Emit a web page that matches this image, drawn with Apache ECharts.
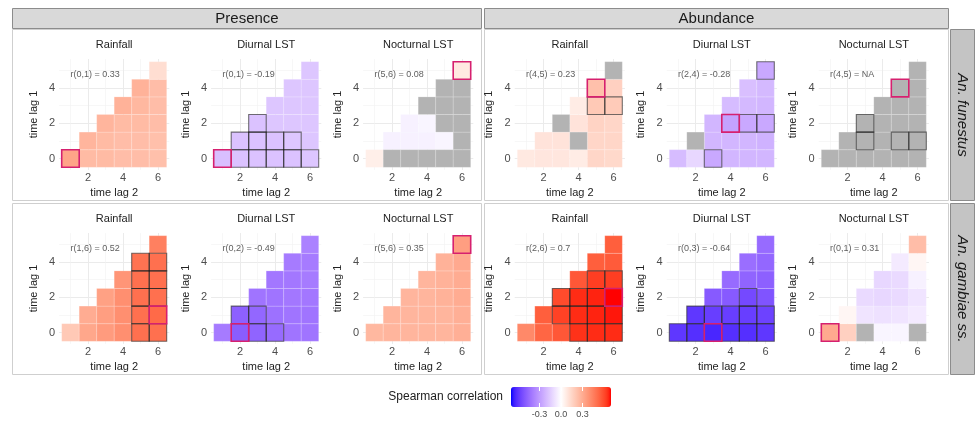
<!DOCTYPE html>
<html><head><meta charset="utf-8">
<script src="https://cdn.jsdelivr.net/npm/echarts@6/dist/echarts.min.js"></script>
<style>html,body{margin:0;padding:0;background:#fff}#c{width:977px;height:421px}</style>
</head><body><div id="c"></div><script>
// ---------- categories / ticks ----------
const responses = ['Presence', 'Abundance'];
const species = ['An. funestus', 'An. gambiae ss.'];
const variables = ['Rainfall', 'Diurnal LST', 'Nocturnal LST'];
const lag2Ticks = [2, 4, 6];
const lag1Ticks = [0, 2, 4];
const legendTicks = [-0.3, 0.0, 0.3];
const legendTitle = 'Spearman correlation';

// ---------- values: row index = time lag 1 (0..5); row k lists time lag 2 = k+1 .. 6 ----------
const presFunRain = [
  [0.33, 0.25, 0.25, 0.24, 0.24, 0.23],
  [0.27, 0.25, 0.24, 0.24, 0.23],
  [0.27, 0.25, 0.25, 0.24],
  [0.28, 0.26, 0.24],
  [0.28, 0.24],
  [0.12]
];
const presFunDiur = [
  [-0.19, -0.18, -0.18, -0.18, -0.18, -0.17],
  [-0.18, -0.18, -0.18, -0.17, -0.17],
  [-0.18, -0.17, -0.17, -0.17],
  [-0.17, -0.17, -0.17],
  [-0.17, -0.17],
  [-0.17]
];
const presFunNoct = [
  [0.06, null, null, null, null, null],
  [-0.04, -0.04, -0.04, -0.03, null],
  [-0.04, -0.03, null, null],
  [null, null, null],
  [null, null],
  [0.08]
];
const presGamRain = [
  [0.20, 0.32, 0.36, 0.40, 0.50, 0.50],
  [0.30, 0.35, 0.40, 0.50, 0.52],
  [0.34, 0.40, 0.50, 0.50],
  [0.38, 0.50, 0.50],
  [0.49, 0.50],
  [0.45]
];
const presGamDiur = [
  [-0.40, -0.49, -0.47, -0.45, -0.42, -0.42],
  [-0.48, -0.46, -0.43, -0.42, -0.42],
  [-0.42, -0.42, -0.41, -0.41],
  [-0.41, -0.41, -0.40],
  [-0.40, -0.40],
  [-0.38]
];
const presGamNoct = [
  [0.26, 0.27, 0.27, 0.27, 0.27, 0.29],
  [0.27, 0.27, 0.27, 0.27, 0.29],
  [0.27, 0.27, 0.28, 0.30],
  [0.27, 0.28, 0.30],
  [0.28, 0.31],
  [0.35]
];
const abunFunRain = [
  [0.08, 0.09, 0.09, 0.07, 0.15, 0.14],
  [0.10, 0.10, null, 0.15, 0.15],
  [null, 0.10, 0.16, 0.15],
  [0.07, 0.20, 0.19],
  [0.23, 0.17],
  [null]
];
const abunFunDiur = [
  [-0.20, -0.12, -0.26, -0.22, -0.22, -0.22],
  [null, -0.22, -0.22, -0.22, -0.23],
  [-0.22, -0.28, -0.26, -0.26],
  [-0.20, -0.21, -0.22],
  [-0.19, -0.21],
  [-0.26]
];
const abunFunNoct = [
  [null, null, null, null, null, null],
  [null, null, null, null, null],
  [null, null, null, null],
  [null, null, null],
  [null, null],
  [null]
];
const abunGamRain = [
  [0.42, 0.53, 0.57, 0.65, 0.66, 0.66],
  [0.55, 0.62, 0.66, 0.67, 0.68],
  [0.60, 0.66, 0.67, 0.70],
  [0.57, 0.63, 0.63],
  [0.55, 0.56],
  [0.55]
];
const abunGamDiur = [
  [-0.60, -0.62, -0.64, -0.62, -0.62, -0.60],
  [-0.60, -0.58, -0.58, -0.58, -0.57],
  [-0.50, -0.50, -0.55, -0.52],
  [-0.45, -0.47, -0.48],
  [-0.44, -0.46],
  [-0.45]
];
const abunGamNoct = [
  [0.31, 0.17, null, -0.03, -0.03, null],
  [0.03, -0.08, -0.09, -0.08, -0.06],
  [-0.11, -0.12, -0.11, -0.08],
  [-0.12, -0.11, -0.04],
  [-0.06, 0.03],
  [0.24]
];

// significant cells [time lag 2, time lag 1]
const presFunRainSig = [];
const presFunDiurSig = [[2,0],[3,0],[4,0],[5,0],[6,0],[2,1],[3,1],[4,1],[5,1],[3,2]];
const presFunNoctSig = [];
const presGamRainSig = [[5,0],[5,1],[5,2],[5,3],[5,4],[6,0],[6,2],[6,3],[6,4]];
const presGamDiurSig = [[3,0],[4,0],[2,1],[3,1]];
const presGamNoctSig = [];
const abunFunRainSig = [[5,3],[6,3]];
const abunFunDiurSig = [[3,0],[5,2],[6,2],[6,5]];
const abunFunNoctSig = [[3,1],[3,2],[5,1],[6,1]];
const abunGamRainSig = [[4,0],[5,0],[6,0],[3,1],[4,1],[5,1],[6,1],[3,2],[4,2],[5,2],[5,3],[6,3]];
const abunGamDiurSig = [[1,0],[2,0],[4,0],[5,0],[6,0],[2,1],[3,1],[4,1],[5,1],[6,1],[5,2]];
const abunGamNoctSig = [];

// best (highlighted) cell [time lag 2, time lag 1]
const presFunBest = [[1,0],[1,0],[6,5]];
const presGamBest = [[6,1],[2,0],[6,5]];
const abunFunBest = [[5,4],[4,2],[5,4]];
const abunGamBest = [[6,2],[3,0],[1,0]];

// ---------- assemble panels ----------
const panelValues = [
  [[presFunRain, presFunDiur, presFunNoct], [presGamRain, presGamDiur, presGamNoct]],
  [[abunFunRain, abunFunDiur, abunFunNoct], [abunGamRain, abunGamDiur, abunGamNoct]]
];
const panelSig = [
  [[presFunRainSig, presFunDiurSig, presFunNoctSig], [presGamRainSig, presGamDiurSig, presGamNoctSig]],
  [[abunFunRainSig, abunFunDiurSig, abunFunNoctSig], [abunGamRainSig, abunGamDiurSig, abunGamNoctSig]]
];
const panelBest = [[presFunBest, presGamBest], [abunFunBest, abunGamBest]];

// ---------- colour scale (Lab interpolation, like ggplot gradient2) ----------
const LIM = 0.7;
function s2l(c){c/=255;return c<=0.04045?c/12.92:Math.pow((c+0.055)/1.055,2.4);}
function l2s(c){c=Math.max(0,Math.min(1,c));return Math.round(255*(c<=0.0031308?12.92*c:1.055*Math.pow(c,1/2.4)-0.055));}
function toLab(rgb){
  const r=s2l(rgb[0]),g=s2l(rgb[1]),b=s2l(rgb[2]);
  const X=(0.4124*r+0.3576*g+0.1805*b)/0.95047, Y=0.2126*r+0.7152*g+0.0722*b, Z=(0.0193*r+0.1192*g+0.9505*b)/1.08883;
  const f=t=>t>0.008856?Math.cbrt(t):7.787*t+16/116;
  return [116*f(Y)-16,500*(f(X)-f(Y)),200*(f(Y)-f(Z))];
}
function fromLab(l){
  const fy=(l[0]+16)/116, fx=fy+l[1]/500, fz=fy-l[2]/200;
  const fi=t=>t*t*t>0.008856?t*t*t:(t-16/116)/7.787;
  const X=0.95047*fi(fx),Y=fi(fy),Z=1.08883*fi(fz);
  const r=3.2406*X-1.5372*Y-0.4986*Z,g=-0.9689*X+1.8758*Y+0.0415*Z,b=0.0557*X-0.2040*Y+1.0570*Z;
  return 'rgb('+l2s(r)+','+l2s(g)+','+l2s(b)+')';
}
const labW=toLab([255,255,255]), labR=toLab([255,0,0]), labB=toLab([0,0,255]);
const colorStops=[];
for(let i=0;i<=40;i++){
  const v=-1+2*i/40, t=Math.abs(v), end=v<0?labB:labR;
  colorStops.push(fromLab([0,1,2].map(k=>labW[k]+(end[k]-labW[k])*t)));
}

// ---------- layout ----------
const FONT='"Liberation Sans", Arial, sans-serif';
const CW=17.5, CH=17.6, EXP=0.15;
const X0=61.7, Y0=61.7, COLSTEP=152, HALFSTEP=455.6, ROWSTEP=174;
const NA_COLOR='#b3b3b3';
function minorOf(major, lo, hi){
  const st=major[1]-major[0];
  return [major[0]-st/2].concat(major.map(v=>v+st/2)).filter(v=>v>=lo&&v<=hi);
}
const xLo=0.5-EXP, xHi=6.5+EXP, yLo=-0.5-EXP, yHi=5.5+EXP;

const grids=[], xAxes=[], yAxes=[], series=[], graphics=[], fillIdx=[];

function rectOf(api,x,y){
  const p0=api.coord([x-0.5,y+0.5]), p1=api.coord([x+0.5,y-0.5]);
  return {x:p0[0],y:p0[1],width:p1[0]-p0[0],height:p1[1]-p0[1]};
}

let g=0;
for(let h=0;h<2;h++){
  for(let r=0;r<2;r++){
    for(let c=0;c<3;c++){
      const cl=X0+c*COLSTEP+h*HALFSTEP, ct=Y0+r*ROWSTEP;
      grids.push({left:cl-EXP*CW, top:ct-EXP*CH, width:(6+2*EXP)*CW, height:(6+2*EXP)*CH, containLabel:false});
      const xi=xAxes.length, yi=yAxes.length;
      xAxes.push({type:'value',gridIndex:g,min:xLo,max:xHi,
        axisLine:{show:false},axisTick:{show:false,customValues:lag2Ticks},
        axisLabel:{customValues:lag2Ticks,color:'#4d4d4d',fontSize:11,margin:3,fontFamily:FONT},
        splitLine:{show:true,lineStyle:{color:'#ebebeb',width:1}},
        name:'time lag 2',nameLocation:'middle',nameGap:18,nameTextStyle:{color:'#222',fontSize:11,fontFamily:FONT}});
      xAxes.push({type:'value',gridIndex:g,min:xLo,max:xHi,
        axisLine:{show:false},axisTick:{show:false,customValues:minorOf(lag2Ticks,xLo,xHi)},
        axisLabel:{show:false},splitLine:{show:true,lineStyle:{color:'#f2f2f2',width:0.6}}});
      yAxes.push({type:'value',gridIndex:g,min:yLo,max:yHi,
        axisLine:{show:false},axisTick:{show:false,customValues:lag1Ticks},
        axisLabel:{customValues:lag1Ticks,color:'#4d4d4d',fontSize:11,margin:4,fontFamily:FONT},
        splitLine:{show:true,lineStyle:{color:'#ebebeb',width:1}},
        name:'time lag 1',nameLocation:'middle',nameGap:20,nameTextStyle:{color:'#222',fontSize:11,fontFamily:FONT}});
      yAxes.push({type:'value',gridIndex:g,min:yLo,max:yHi,
        axisLine:{show:false},axisTick:{show:false,customValues:minorOf(lag1Ticks,yLo,yHi)},
        axisLabel:{show:false},splitLine:{show:true,lineStyle:{color:'#f2f2f2',width:0.6}}});

      const vals=panelValues[h][r][c];
      const fill=[], na=[];
      vals.forEach((row,y)=>row.forEach((v,k)=>{
        const x=y+1+k;
        if(v===null) na.push([x,y]); else fill.push([x,y,v]);
      }));
      fillIdx.push(series.length);
      series.push({type:'custom',xAxisIndex:xi,yAxisIndex:yi,data:fill,encode:{x:0,y:1},z:2,silent:true,
        renderItem:(p,api)=>({type:'rect',shape:rectOf(api,api.value(0),api.value(1)),
          style:{fill:api.visual('color'),stroke:'rgba(255,255,255,0.35)',lineWidth:0.5}})});
      series.push({type:'custom',xAxisIndex:xi,yAxisIndex:yi,data:na,encode:{x:0,y:1},z:2,silent:true,
        renderItem:(p,api)=>({type:'rect',shape:rectOf(api,api.value(0),api.value(1)),
          style:{fill:NA_COLOR,stroke:'rgba(255,255,255,0.35)',lineWidth:0.5}})});
      series.push({type:'custom',xAxisIndex:xi,yAxisIndex:yi,data:panelSig[h][r][c],encode:{x:0,y:1},z:3,silent:true,
        renderItem:(p,api)=>({type:'rect',shape:rectOf(api,api.value(0),api.value(1)),
          style:{fill:'none',stroke:'rgba(20,20,20,0.6)',lineWidth:1.1}})});
      const best=panelBest[h][r][c];
      series.push({type:'custom',xAxisIndex:xi,yAxisIndex:yi,data:[best],encode:{x:0,y:1},z:4,silent:true,
        renderItem:(p,api)=>({type:'rect',shape:rectOf(api,api.value(0),api.value(1)),
          style:{fill:'none',stroke:'#d6206f',lineWidth:1.6}})});
      const bv=vals[best[1]][best[0]-best[1]-1];
      const label='r('+best[1]+','+best[0]+') = '+(bv===null?'NA':String(bv));
      series.push({type:'scatter',xAxisIndex:xi,yAxisIndex:yi,data:[[1,4.8]],symbolSize:0,z:5,silent:true,
        label:{show:true,position:'right',distance:0,formatter:label,color:'#333',fontSize:9,fontFamily:FONT}});

      graphics.push({type:'text',x:cl+3*CW,y:ct-17,style:{text:variables[c],align:'center',verticalAlign:'middle',
        fill:'#222',font:'11px '+FONT}});
      g++;
    }
  }
}

// legend tick axis
const LEG_L=511, LEG_T=387, LEG_W=100, LEG_H=20;
grids.push({left:LEG_L,top:LEG_T,width:LEG_W,height:LEG_H});
xAxes.push({type:'value',gridIndex:g,min:-LIM,max:LIM,z:10,
  axisLine:{show:false},axisTick:{show:true,inside:true,length:4,customValues:legendTicks,lineStyle:{color:'#fff',width:1}},
  axisLabel:{customValues:legendTicks,formatter:v=>v.toFixed(1),color:'#4d4d4d',fontSize:9,margin:3,fontFamily:FONT},
  splitLine:{show:false}});
xAxes.push({type:'value',gridIndex:g,min:-LIM,max:LIM,position:'top',z:10,
  axisLine:{show:false},axisTick:{show:true,inside:true,length:4,customValues:legendTicks,lineStyle:{color:'#fff',width:1}},
  axisLabel:{show:false},splitLine:{show:false}});
yAxes.push({type:'value',gridIndex:g,show:false,min:0,max:1});

// strips, frames
const STRIP_FILL='#d9d9d9', STRIP_LINE='#8c8c8c', FRAME='#cfcfcf';
const halfL=[12,484], halfR=[481,948];
for(let h=0;h<2;h++){
  graphics.push({type:'rect',shape:{x:halfL[h]+0.5,y:8.5,width:halfR[h]-halfL[h],height:20},
    style:{fill:STRIP_FILL,stroke:STRIP_LINE,lineWidth:1}});
  graphics.push({type:'text',x:(halfL[h]+halfR[h])/2+0.5,y:18.5,style:{text:responses[h],align:'center',verticalAlign:'middle',
    fill:'#1a1a1a',font:'15px '+FONT}});
  for(let r=0;r<2;r++){
    graphics.push({type:'rect',z:-1,shape:{x:halfL[h]+0.5,y:29.5+r*ROWSTEP,width:halfR[h]-halfL[h],height:171},
      style:{fill:'none',stroke:FRAME,lineWidth:1}});
  }
}
for(let r=0;r<2;r++){
  graphics.push({type:'rect',shape:{x:950.5,y:29.5+r*ROWSTEP,width:24,height:171},
    style:{fill:'#c4c4c4',stroke:STRIP_LINE,lineWidth:1}});
  graphics.push({type:'text',x:962.5,y:115+r*ROWSTEP,rotation:-Math.PI/2,
    style:{text:species[r],align:'center',verticalAlign:'middle',fill:'#1a1a1a',font:'italic 15px '+FONT}});
}
graphics.push({type:'text',x:503,y:LEG_T+LEG_H/2,style:{text:legendTitle,align:'right',verticalAlign:'middle',
  fill:'#222',font:'12px '+FONT}});

const chart=echarts.init(document.getElementById('c'),null,{renderer:'canvas'});
chart.setOption({
  animation:false,
  backgroundColor:'#fff',
  textStyle:{fontFamily:FONT},
  grid:grids, xAxis:xAxes, yAxis:yAxes, series:series, graphic:graphics,
  visualMap:[{type:'continuous',min:-LIM,max:LIM,dimension:2,seriesIndex:fillIdx,
    inRange:{color:colorStops},orient:'horizontal',left:LEG_L,top:LEG_T,itemWidth:LEG_H,itemHeight:LEG_W,
    calculable:false,hoverLink:false,text:null,showLabel:false,padding:0}]
});
</script></body></html>
